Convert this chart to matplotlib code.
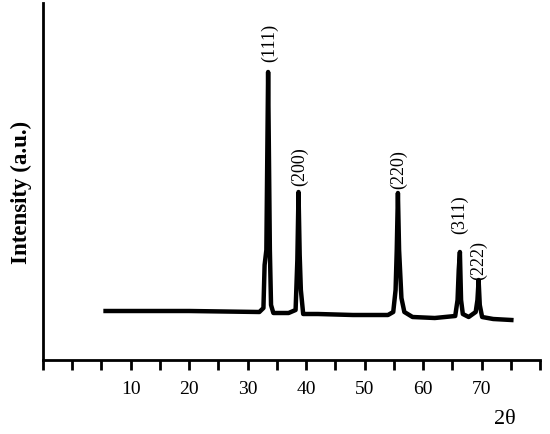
import matplotlib
matplotlib.use("Agg")
import matplotlib.pyplot as plt

# XRD pattern (2theta, intensity in a.u.)
two_theta = [5.7, 20.0, 32.0, 32.7, 32.9, 33.2, 33.5, 33.8, 34.0, 34.4, 37.0,
             38.2, 38.5, 38.7, 38.9, 39.1, 39.5, 42.0, 48.0, 54.0, 54.9,
             55.3, 55.5, 55.7, 55.9, 56.3, 56.8, 58.2, 62.0, 65.5, 65.9,
             66.1, 66.3, 66.5, 66.8, 67.8, 69.0, 69.3, 69.5, 69.7, 70.1,
             72.0, 75.1]
intensity = [49, 49, 48, 52, 95, 110, 288, 110, 55, 47, 47,
             50, 100, 168, 105, 70, 46, 46, 45, 45, 48,
             70, 110, 167, 110, 62, 48, 43, 42, 44, 60,
             90, 108, 60, 46, 43, 48, 60, 80, 55, 43,
             41, 40]

peak_labels = ["(111)", "(200)", "(220)", "(311)", "(222)"]
label_x = [33.7, 38.9, 55.9, 66.3, 69.5]
label_y = [317, 193, 190, 145, 99]

xtick_pos = [10, 20, 30, 40, 50, 60, 70]
xtick_lab = ["10", "20", "30", "40", "50", "60", "70"]

plt.rcParams['font.family'] = ['Liberation Serif', 'DejaVu Serif']

fig = plt.figure(figsize=(5.5, 4.34), dpi=100)
ax = fig.add_axes([43 / 550, 74 / 434, 497 / 550, 357 / 434])

ax.plot(two_theta, intensity, color='black', linewidth=3.2, solid_joinstyle='round')

for lab, x, y in zip(peak_labels, label_x, label_y):
    ax.text(x, y, lab, rotation=90, ha='center', va='center', fontsize=13)

ax.set_xlim(-5, 80)
ax.set_ylim(0, 357)
ax.set_xticks(xtick_pos)
ax.set_xticklabels(xtick_lab, fontsize=14)
ax.set_xticks([x for x in range(-5, 81, 5) if x not in xtick_pos], minor=True)
ax.set_yticks([])
ax.tick_params(axis='x', which='both', direction='out', length=7, width=2, pad=8)

for side in ['top', 'right']:
    ax.spines[side].set_visible(False)
for side in ['left', 'bottom']:
    ax.spines[side].set_linewidth(2)

ax.set_ylabel('Intensity (a.u.)', fontsize=16.5, fontweight='bold')
ax.yaxis.set_label_coords(-0.022, 0.468)
fig.text(505 / 550, 1 - 420 / 434, '2θ', fontsize=16, ha='center', va='center')

fig.savefig('out.png', dpi=100)
